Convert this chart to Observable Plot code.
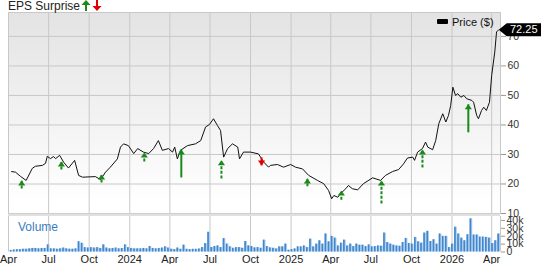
<!DOCTYPE html>
<html><head><meta charset="utf-8">
<script src="https://cdn.jsdelivr.net/npm/d3@7"></script>
<script src="https://cdn.jsdelivr.net/npm/@observablehq/plot@0.6"></script>
<style>
body{margin:0;background:#fff;font-family:"Liberation Sans",Arial,sans-serif;}
#wrap{position:relative;width:541px;height:264px;overflow:hidden;}
#wrap svg.plt{position:absolute;left:0;top:0;}
.t{position:absolute;white-space:nowrap;line-height:12px;}
</style></head><body>
<div id="wrap">
  <div class="t" style="left:8px;top:0px;font-size:12px;color:#222">EPS Surprise<svg width="22" height="11" style="vertical-align:-1px;margin-left:1px"><polygon points="5,0 9.5,5 6,5 6,11 4,11 4,5 0.5,5" fill="#1a8a1a"/><polygon points="16,11 20.5,6 17,6 17,0 15,0 15,6 11.5,6" fill="#e00000"/></svg></div>
  <div class="t" style="left:437px;top:19px;width:11px;height:5px;background:#000;border-radius:1px"></div>
  <div class="t" style="left:452px;top:16px;font-size:11px;color:#111">Price ($)</div>
  <div class="t" style="left:18px;top:221px;font-size:12px;color:#3a7dc2">Volume</div>
</div>
<script>
// ---- price line ----
const priceDates = ["2023-04-08","2023-04-17","2023-04-28","2023-05-11","2023-05-25","2023-06-01","2023-06-17","2023-06-24","2023-06-28","2023-07-05","2023-07-12","2023-07-17","2023-07-26","2023-08-04","2023-08-15","2023-08-29","2023-09-07","2023-09-16","2023-10-15","2023-10-27","2023-11-07","2023-11-18","2023-12-04","2023-12-11","2023-12-18","2023-12-29","2024-01-10","2024-01-19","2024-02-01","2024-02-13","2024-02-24","2024-03-06","2024-03-15","2024-03-29","2024-04-07","2024-04-12","2024-04-18","2024-04-25","2024-05-11","2024-05-29","2024-06-10","2024-06-21","2024-06-30","2024-07-09","2024-07-18","2024-07-25","2024-08-01","2024-08-10","2024-08-21","2024-09-02","2024-09-06","2024-09-15","2024-10-01","2024-10-19","2024-10-31","2024-11-11","2024-11-15","2024-12-01","2024-12-15","2024-12-31","2025-01-11","2025-01-27","2025-02-10","2025-03-02","2025-03-16","2025-03-27","2025-04-03","2025-04-08","2025-04-17","2025-04-23","2025-05-05","2025-05-11","2025-05-20","2025-06-01","2025-06-14","2025-07-05","2025-07-23","2025-08-03","2025-08-19","2025-09-02","2025-09-13","2025-09-22","2025-10-04","2025-10-08","2025-10-15","2025-10-26","2025-11-02","2025-11-07","2025-11-18","2025-11-25","2025-12-02","2025-12-11","2025-12-18","2025-12-24","2025-12-29","2026-01-03","2026-01-09","2026-01-14","2026-01-21","2026-01-28","2026-02-03","2026-02-15","2026-02-19","2026-02-26","2026-03-02","2026-03-09","2026-03-14","2026-03-20","2026-03-27","2026-04-01","2026-04-08","2026-04-12","2026-04-17"];
const priceValues = [24.2,24.0,22.6,21.2,25.3,26.0,26.3,27.0,29.4,28.6,29.3,28.6,29.7,27.4,25.4,28.0,22.9,22.3,22.5,21.5,24.0,25.7,28.5,32.5,33.6,33.0,30.3,32.0,30.8,30.3,32.0,34.7,31.4,32.0,30.8,32.5,28.5,31.4,33.0,33.6,34.7,39.3,40.2,42.1,39.8,38.1,29.1,32.0,33.6,32.5,28.5,30.8,30.8,30.2,27.4,25.7,26.3,26.6,25.7,26.6,25.7,25.1,22.9,21.2,20.1,17.8,15.0,16.1,15.5,16.7,18.4,19.5,18.4,18.0,20.1,22.1,21.2,22.9,24.2,24.9,26.8,28.8,29.1,28.0,30.8,32.0,34.2,32.5,31.6,34.7,40.4,43.8,41.0,43.2,46.6,52.8,50.0,50.6,49.4,50.0,48.9,48.3,47.7,43.2,42.1,44.9,46.0,44.9,47.7,56.8,64.7,71.5,72.25];
const lastPrice = 72.25;

// ---- EPS surprise arrows ----
const epsDates = ["2023-05-01","2023-07-30","2023-10-29","2024-02-03","2024-04-27","2024-07-27","2024-10-26","2025-02-07","2025-04-25","2025-07-25","2025-10-26","2026-02-07"];
const epsTip   = [21.2,27.6,23.2,30.7,31.7,28.0,26.3,21.9,17.8,21.2,31.7,47.0];
const epsTail  = [18.5,24.9,20.5,27.6,22.2,21.9,29.0,19.2,14.7,13.4,25.6,37.5];
const epsDir   = ["up","up","up","up","up","up","down","up","up","up","up","up"];
const epsStem  = ["dash","dash","dash","dash","solid","dash","solid","dash","dash","dash","dash","solid"];

// ---- weekly volume (thousands) ----
const volStart = "2023-04-05";
const volumeK = [2,2.5,3,3,3.5,3.5,4,4.5,4.5,4,4.5,4.5,9,
 4,4,3.5,4,5,4,3.5,3.5,4,13,
 11,5.5,5,5.5,5,5.5,4.5,9,
 5,4,4.5,5,4,4.5,
 9,5.5,4.5,4,4,4,4.5,4,7,4.5,4,4.5,5,6.5,5,3.5,3,5,
 3.4,8.6,3.4,3,3.4,3.4,3.8,5.6,10.7,
 25,5.6,6.9,7.7,5.6,17,10,6.5,4.7,5.6,5.6,4.7,
 13.3,7.7,6.9,5.2,5.6,4.7,15,6.9,5.2,4.7,3.9,6.5,6.5,
 10,2.2,3,3.9,6.5,6.5,7.7,5.6,16.3,6.5,10,14.2,10,
 22.8,12.9,19.8,17.6,7.7,11.2,15,7.7,10,6.9,10,8.6,
 8.6,6.9,9,6.5,6.9,7.7,7.3,24,12,10,8.6,7.7,7.3,
 12,17.2,10.7,10,18.5,12.9,11.2,24,26.2,13.3,15.5,10,22.8,19.8,19.8,
 5.6,10,31.4,22.8,17.6,14.2,21.9,42,21.5,21.5,18.9,18.9,18.5,17.6,10.7,14.2,22.8];

// ---- axes ----
const xTickDates = ["2023-04-01","2023-07-01","2023-10-01","2024-01-01","2024-04-01","2024-07-01","2024-10-01","2025-01-01","2025-04-01","2025-07-01","2025-10-01","2026-01-01","2026-04-01"];
const xTickLabels = ["Apr","Jul","Oct","2024","Apr","Jul","Oct","2025","Apr","Jul","Oct","2026","Apr"];
const priceTicks = [10,20,30,40,50,60,70];
const volTicks = [0,10,20,30,40];

const W = 541, H = 264;
const xDomain = [new Date("2023-04-01"), new Date("2026-04-21")];
const xt = xTickDates.map(d => new Date(d));
const labelMap = new Map(xt.map((d,i) => [+d, xTickLabels[i]]));
const price = priceDates.map((d,i) => ({date: new Date(d), value: priceValues[i]}));
const eps = epsDates.map((d,i) => ({date: new Date(d), tip: epsTip[i], tail: epsTail[i], dir: epsDir[i], stem: epsStem[i]}));
const vol = volumeK.map((v,i) => ({date: d3.utcDay.offset(new Date(volStart), 7*i), v}));
const last = price[price.length-1];

const ns = "http://www.w3.org/2000/svg";
const gradientBg = (index, scales, values, dim) => {
  const g = document.createElementNS(ns, "g");
  g.innerHTML = `<defs><linearGradient id="bgGrad" x1="0" y1="0" x2="0" y2="1"><stop offset="0" stop-color="#e3e3e3"/><stop offset="0.95" stop-color="#ffffff"/></linearGradient></defs><rect x="${dim.marginLeft}" y="${dim.marginTop}" width="${dim.width-dim.marginLeft-dim.marginRight}" height="${dim.height-dim.marginTop-dim.marginBottom}" fill="url(#bgGrad)"/>`;
  return g;
};
const sepBand = (index, scales, values, dim) => {
  const g = document.createElementNS(ns, "g");
  g.innerHTML = `<rect x="${dim.marginLeft}" y="${dim.marginTop-3}" width="${dim.width-dim.marginLeft-dim.marginRight}" height="3" fill="#e0e0e0"/><line x1="${dim.marginLeft}" x2="${dim.width-dim.marginRight}" y1="${dim.marginTop-2.5}" y2="${dim.marginTop-2.5}" stroke="#cfcfcf"/>`;
  return g;
};
const upHead = {draw(c){ c.moveTo(0,0); c.lineTo(3.6,5); c.lineTo(-3.6,5); c.closePath(); }};
const downHead = {draw(c){ c.moveTo(0,0); c.lineTo(3.6,-5); c.lineTo(-3.6,-5); c.closePath(); }};
const tag = {draw(c){ c.moveTo(0,0); c.lineTo(8,-6.5); c.lineTo(45,-6.5); c.lineTo(45,6.5); c.lineTo(8,6.5); c.closePath(); }};
const green = "#1a8a1a", red = "#e00000";

const style = {background:"transparent", overflow:"visible", fontFamily:"Liberation Sans, Arial, sans-serif", fontSize:"10.5px", color:"#333"};

const pricePlot = Plot.plot({
  width: W, height: H, marginTop: 12, marginBottom: 51, marginLeft: 8, marginRight: 41,
  style,
  x: {type: "utc", domain: xDomain},
  y: {domain: [10, 78.1]},
  marks: [
    gradientBg,
    Plot.ruleX(xt, {stroke: "#c8c8c8"}),
    Plot.ruleY(priceTicks.slice(1), {stroke: "#c8c8c8"}),
    Plot.frame({stroke: "#c8c8c8"}),
    Plot.axisY(priceTicks, {anchor: "right", tickSize: 5, tickPadding: 2, stroke: "#999", fill: "#333", label: null}),
    Plot.axisX([], {label: null}),
    Plot.line(price, {x: "date", y: "value", stroke: "#111", strokeWidth: 1}),
    Plot.link(eps.filter(d => d.stem === "solid"), {x1: "date", x2: "date", y1: "tail", y2: "tip", stroke: d => d.dir === "up" ? green : red, strokeWidth: 2}),
    Plot.link(eps.filter(d => d.stem === "dash"), {x1: "date", x2: "date", y1: "tail", y2: "tip", stroke: d => d.dir === "up" ? green : red, strokeWidth: 2, strokeDasharray: "3,1.6"}),
    Plot.dot(eps.filter(d => d.dir === "up"), {x: "date", y: "tip", symbol: upHead, fill: green, stroke: null}),
    Plot.dot(eps.filter(d => d.dir === "down"), {x: "date", y: "tip", symbol: downHead, fill: red, stroke: null}),
    Plot.dot([last], {x: "date", y: "value", symbol: tag, fill: "#000", stroke: null}),
    Plot.text([last], {x: "date", y: "value", text: d => d.value.toFixed(2), dx: 25, fill: "#fff", fontSize: 11})
  ]
});
pricePlot.classList.add("plt");

const volPlot = Plot.plot({
  width: W, height: H, marginTop: 216, marginBottom: 12.5, marginLeft: 8, marginRight: 41,
  style,
  x: {type: "utc", domain: xDomain},
  y: {domain: [0, 45]},
  marks: [
    sepBand,
    Plot.ruleX(xt, {stroke: "#c8c8c8"}),
    Plot.rectY(vol, {x1: "date", x2: d => new Date(+d.date + 6*864e5), y: "v", fill: "#a9cbee"}),
    Plot.rectY(vol, {x1: "date", x2: d => new Date(+d.date + 3.6*864e5), y: "v", fill: "#3f86cc"}),
    Plot.ruleX([xDomain[1]], {stroke: "#c8c8c8"}),
    Plot.axisY(volTicks, {anchor: "right", tickSize: 4, tickPadding: 2, stroke: "#999", fill: "#333", label: null, tickFormat: d => d === 0 ? "0" : d + "k"}),
    Plot.axisX(xt, {anchor: "bottom", tickSize: 0, tickPadding: 3, fill: "#222", label: null, tickFormat: d => labelMap.get(+d), fontSize: 11})
  ]
});
volPlot.classList.add("plt");

const wrap = document.getElementById("wrap");
wrap.insertBefore(volPlot, wrap.firstChild);
wrap.insertBefore(pricePlot, wrap.firstChild);
</script>
</body></html>
